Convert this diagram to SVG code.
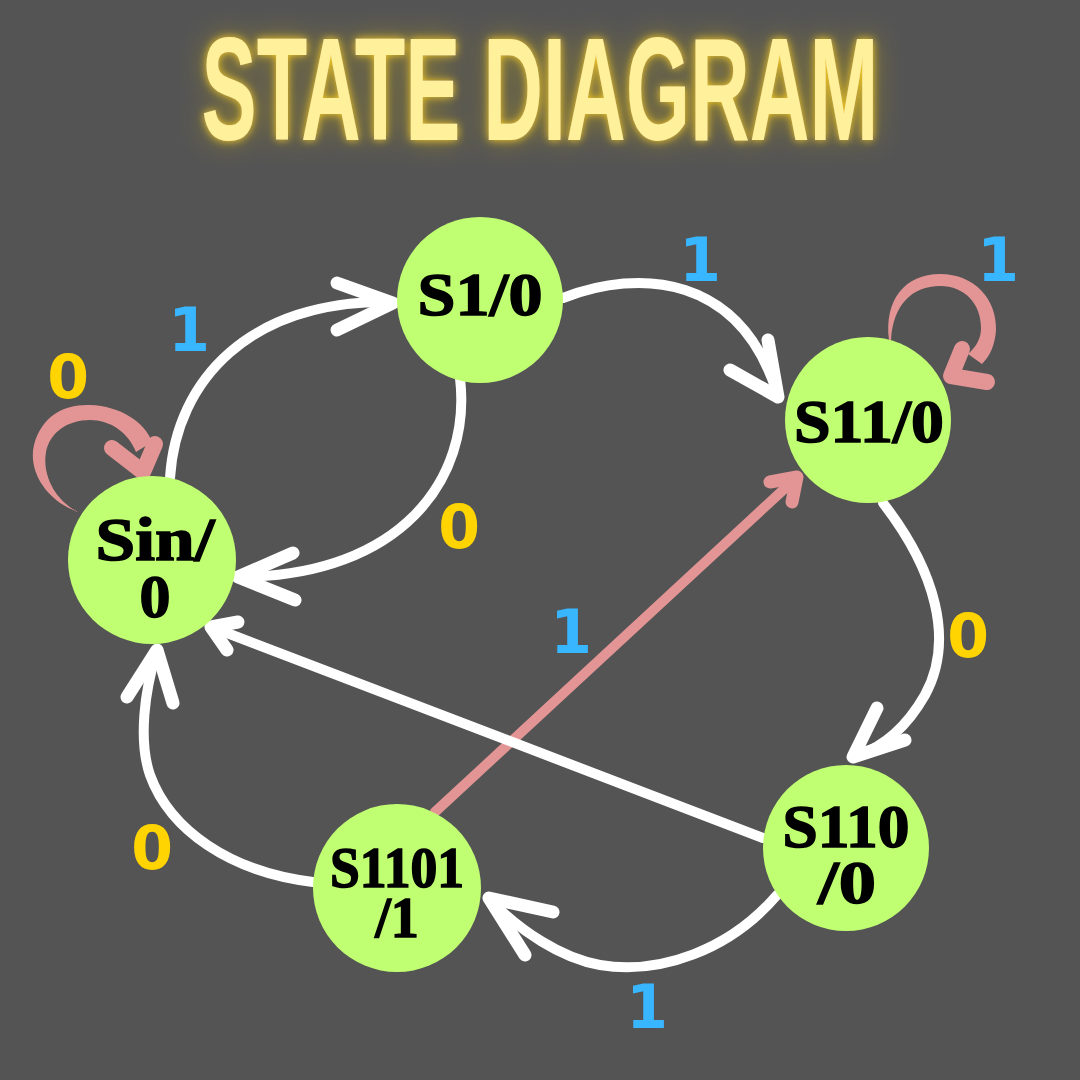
<svg xmlns="http://www.w3.org/2000/svg" width="1080" height="1080" viewBox="0 0 1080 1080">
<defs>
<filter id="glow" x="-20%" y="-60%" width="140%" height="220%">
<feGaussianBlur in="SourceAlpha" stdDeviation="14" result="b1"/>
<feFlood flood-color="#E8C21A" flood-opacity="0.45"/>
<feComposite in2="b1" operator="in" result="g1"/>
<feGaussianBlur in="SourceAlpha" stdDeviation="4" result="b2"/>
<feFlood flood-color="#FFD21F" flood-opacity="0.95"/>
<feComposite in2="b2" operator="in" result="g2"/>
<feMerge><feMergeNode in="g1"/><feMergeNode in="g2"/><feMergeNode in="SourceGraphic"/></feMerge>
</filter>
<style>
.bg{fill:#545454}
.node{fill:#C1FF72}
.ntext{font-family:'Liberation Serif','Times New Roman',serif;font-weight:bold;font-size:62px;fill:#000;stroke:#000;stroke-width:1.5;text-anchor:middle}
.lbl{font-family:'DejaVu Sans','Verdana',sans-serif;font-weight:bold;font-size:60px;text-anchor:middle}
.one{fill:#38B6FF}
.zero{fill:#FFD400}
.w{fill:none;stroke:#FFFFFF;stroke-width:10;stroke-linecap:round}
.wh{fill:none;stroke:#FFFFFF;stroke-width:13;stroke-linecap:round;stroke-linejoin:round}
.p{fill:none;stroke:#E39595;stroke-width:10;stroke-linecap:round}
.ph{fill:none;stroke:#E39595;stroke-width:13;stroke-linecap:round;stroke-linejoin:round}
.phl{fill:none;stroke:#E39595;stroke-width:16;stroke-linecap:round;stroke-linejoin:round}
.pf{fill:#E39595}
</style>
</defs>
<rect class="bg" x="0" y="0" width="1080" height="1080"/>
<g id="title">
<text x="540" y="140" text-anchor="middle" font-family="'Liberation Sans Narrow','Liberation Sans',sans-serif" font-weight="bold" font-size="146" textLength="677" lengthAdjust="spacingAndGlyphs" fill="#FFF09C" filter="url(#glow)">STATE DIAGRAM</text>
</g>
<g id="connectors">
<!-- S1101 -> S11 (pink) -->
<path class="p" d="M435,812 L795,479"/>
<path class="ph" d="M770,482 L797,477 L792,502"/>
<!-- S110 -> Sin -->
<path class="w" d="M763,838 L214,628"/>
<path class="wh" d="M238,622 L211,627 L227,650"/>
<!-- Sin -> S1 -->
<path class="w" d="M170,478 C176,380 250,300 390,302"/>
<path class="wh" d="M337,283 L393,303 L337,330"/>
<!-- S1 -> Sin -->
<path class="w" d="M460,378 C472,480 400,575 242,577"/>
<path class="wh" d="M293,553 L238,577 L295,600"/>
<!-- S1 -> S11 -->
<path class="w" d="M563,298 C640,268 740,275 777,393"/>
<path class="wh" d="M730,370 L778,397 L768,340"/>
<!-- S11 -> S110 -->
<path class="w" d="M883,503 C935,570 955,640 925,695 C905,730 880,748 857,756"/>
<path class="wh" d="M877,708 L853,757 L905,740"/>
<!-- S1101 -> Sin -->
<path class="w" d="M313,882 C230,872 170,830 150,775 C138,740 145,690 156,654"/>
<path class="wh" d="M127,697 L157,650 L173,703"/>
<!-- S110 -> S1101 -->
<path class="w" d="M777,895 C730,950 660,975 600,965 C560,958 520,930 492,902"/>
<path class="wh" d="M553,912 L489,898 L525,955"/>
<!-- Sin self loop -->
<path class="pf" d="M78,512 C45,500 28,470 34,445 C42,415 65,404 90,405 C120,406 145,422 152,442 L136,452 C128,432 110,420 90,420 C68,420 50,432 46,452 C42,475 55,500 78,512 Z"/>
<path class="phl" d="M112,448 L143,472 L155,444"/>
<!-- S11 self loop -->
<path class="pf" d="M889,340 C884,300 905,274 940,274 C975,274 997,300 996,330 C995,345 990,356 982,364 L968,354 C977,346 981,338 981,328 C981,304 965,286 940,286 C912,286 893,305 891,340 Z"/>
<path class="phl" d="M962,349 L951,376 L987,382"/>
<!-- labels -->
<text class="lbl one" x="189" y="351">1</text>
<text class="lbl zero" x="459" y="548">0</text>
<text class="lbl one" x="700" y="281">1</text>
<text class="lbl one" x="998" y="281">1</text>
<text class="lbl zero" x="68" y="398">0</text>
<text class="lbl zero" x="968" y="657">0</text>
<text class="lbl one" x="571" y="653">1</text>
<text class="lbl zero" x="152" y="869">0</text>
<text class="lbl one" x="647" y="1028">1</text>
</g>
<g id="node-sin">
<circle class="node" cx="152" cy="560" r="84"/>
<text class="ntext" x="155" y="560" textLength="119" lengthAdjust="spacingAndGlyphs">Sin/</text>
<text class="ntext" x="155" y="617">0</text>
</g>
<g id="node-s1">
<circle class="node" cx="480" cy="300" r="83"/>
<text class="ntext" x="480" y="315" textLength="125" lengthAdjust="spacingAndGlyphs">S1/0</text>
</g>
<g id="node-s11">
<circle class="node" cx="868" cy="420" r="83"/>
<text class="ntext" x="869" y="442" textLength="150" lengthAdjust="spacingAndGlyphs">S11/0</text>
</g>
<g id="node-s110">
<circle class="node" cx="846" cy="848" r="83"/>
<text class="ntext" x="846" y="847" textLength="127" lengthAdjust="spacingAndGlyphs">S110</text>
<text class="ntext" x="847" y="903" textLength="58" lengthAdjust="spacingAndGlyphs">/0</text>
</g>
<g id="node-s1101">
<circle class="node" cx="397" cy="888" r="84"/>
<text class="ntext" x="397" y="887" style="font-size:56px" textLength="134" lengthAdjust="spacingAndGlyphs">S1101</text>
<text class="ntext" x="397" y="937" style="font-size:56px">/1</text>
</g>
</svg>
